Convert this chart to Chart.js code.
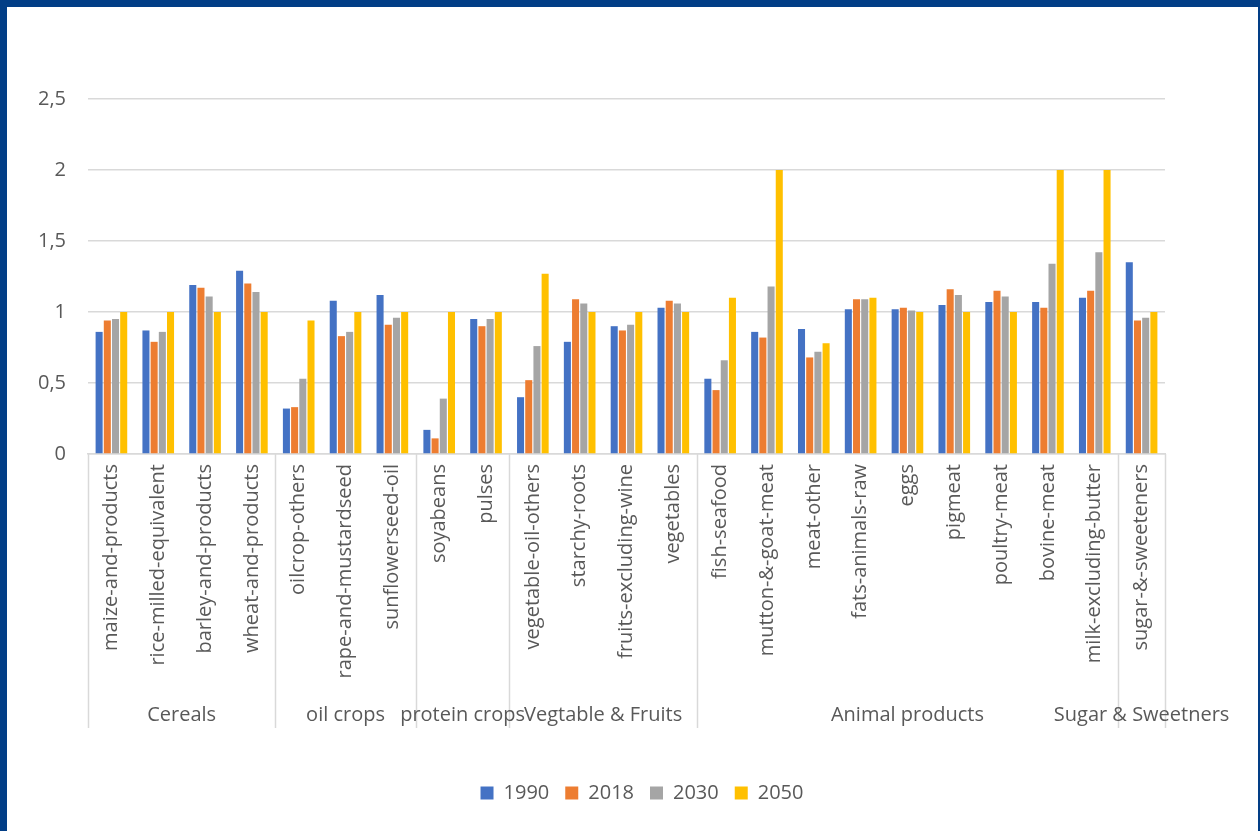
<!DOCTYPE html>
<html>
<head>
<meta charset="utf-8">
<script src="https://cdn.jsdelivr.net/npm/chart.js@4.4.1/dist/chart.umd.min.js"></script>
<style>
  html, body { margin: 0; padding: 0; background: #023e86; width: 1260px; height: 831px; overflow: hidden; }
  #wrap { position: absolute; left: 7px; top: 7px; width: 1251px; height: 824px; background: #ffffff; }
  canvas { display: block; }
</style>
</head>
<body>
<div id="wrap"><canvas id="c" width="1251" height="824"></canvas></div>
<script>
const categories = [
  'maize-and-products', 'rice-milled-equivalent', 'barley-and-products', 'wheat-and-products',
  'oilcrop-others', 'rape-and-mustardseed', 'sunflowerseed-oil',
  'soyabeans', 'pulses',
  'vegetable-oil-others', 'starchy-roots', 'fruits-excluding-wine', 'vegetables',
  'fish-seafood', 'mutton-&-goat-meat', 'meat-other', 'fats-animals-raw', 'eggs', 'pigmeat', 'poultry-meat', 'bovine-meat', 'milk-excluding-butter',
  'sugar-&-sweeteners'
];
const groupNames = ['Cereals', 'oil crops', 'protein crops', 'Vegtable & Fruits', 'Animal products', 'Sugar & Sweetners'];
const groupSizes = [4, 3, 2, 4, 9, 1];

const seriesNames = ['1990', '2018', '2030', '2050'];
const v1990 = [0.86, 0.87, 1.19, 1.29, 0.32, 1.08, 1.12, 0.17, 0.95, 0.40, 0.79, 0.90, 1.03, 0.53, 0.86, 0.88, 1.02, 1.02, 1.05, 1.07, 1.07, 1.10, 1.35];
const v2018 = [0.94, 0.79, 1.17, 1.20, 0.33, 0.83, 0.91, 0.11, 0.90, 0.52, 1.09, 0.87, 1.08, 0.45, 0.82, 0.68, 1.09, 1.03, 1.16, 1.15, 1.03, 1.15, 0.94];
const v2030 = [0.95, 0.86, 1.11, 1.14, 0.53, 0.86, 0.96, 0.39, 0.95, 0.76, 1.06, 0.91, 1.06, 0.66, 1.18, 0.72, 1.09, 1.01, 1.12, 1.11, 1.34, 1.42, 0.96];
const v2050 = [1.00, 1.00, 1.00, 1.00, 0.94, 1.00, 1.00, 1.00, 1.00, 1.27, 1.00, 1.00, 1.00, 1.10, 2.00, 0.78, 1.10, 1.00, 1.00, 1.00, 2.00, 2.00, 1.00];
const yTicks = [0, 0.5, 1, 1.5, 2, 2.5];

const colors = ['#4472C4', '#ED7D31', '#A5A5A5', '#FFC000'];
const seriesValues = [v1990, v2018, v2030, v2050];
const FONT = "'Open Sans', sans-serif";
const TXT = '#595959';
const LINE = '#d9d9d9';

const groupPlugin = {
  id: 'groupRow',
  afterDraw(chart) {
    const ctx = chart.ctx;
    const xs = chart.scales.x;
    const n = categories.length;
    const step = (xs.right - xs.left) / n;
    const yTop = xs.top;
    const yBottom = 721;
    const yText = 708;
    ctx.save();
    ctx.strokeStyle = LINE;
    ctx.lineWidth = 1.5;
    let idx = 0;
    const bounds = [0];
    groupSizes.forEach(s => { idx += s; bounds.push(idx); });
    bounds.forEach(b => {
      const x = Math.round(xs.left + b * step) + 0.5;
      ctx.beginPath();
      ctx.moveTo(x, yTop);
      ctx.lineTo(x, yBottom);
      ctx.stroke();
    });
    ctx.fillStyle = TXT;
    ctx.font = "20px " + FONT;
    ctx.textAlign = 'center';
    ctx.textBaseline = 'middle';
    for (let g = 0; g < groupNames.length; g++) {
      const cx = xs.left + (bounds[g] + bounds[g + 1]) / 2 * step;
      ctx.fillText(groupNames[g], cx, yText);
    }
    ctx.restore();
  }
};

new Chart(document.getElementById('c'), {
  type: 'bar',
  data: {
    labels: categories,
    datasets: seriesNames.map((name, i) => ({
      label: name,
      data: seriesValues[i],
      backgroundColor: colors[i],
      borderWidth: 0,
      categoryPercentage: 0.7,
      barPercentage: 0.86
    }))
  },
  options: {
    responsive: false,
    animation: false,
    layout: { padding: { top: 92, left: 19, right: 0, bottom: 18 } },
    plugins: {
      legend: {
        position: 'bottom',
        labels: {
          boxWidth: 13, boxHeight: 13, padding: 16,
          color: TXT,
          font: { family: FONT, size: 20 }
        }
      },
      tooltip: { enabled: false }
    },
    scales: {
      x: {
        grid: { display: false, drawTicks: false },
        border: { display: true, color: LINE, width: 1.5 },
        ticks: {
          autoSkip: false, minRotation: 90, maxRotation: 90, padding: 10,
          color: TXT, font: { family: FONT, size: 20 }
        },
        afterFit: s => { s.height = 313; }
      },
      y: {
        min: 0, max: 2.5,
        afterBuildTicks: s => { s.ticks = yTicks.map(v => ({ value: v })); },
        grid: { color: LINE, lineWidth: 1.5, drawTicks: false },
        border: { display: false },
        ticks: {
          padding: 22, color: TXT, font: { family: FONT, size: 20 },
          callback: v => String(v).replace('.', ',')
        },
        afterFit: s => { s.width = 62; }
      },
      y2: {
        position: 'right', min: 0, max: 1,
        grid: { display: false, drawTicks: false },
        border: { display: false },
        ticks: { display: false },
        afterFit: s => { s.width = 93; }
      }
    }
  },
  plugins: [groupPlugin]
});
</script>
</body>
</html>
